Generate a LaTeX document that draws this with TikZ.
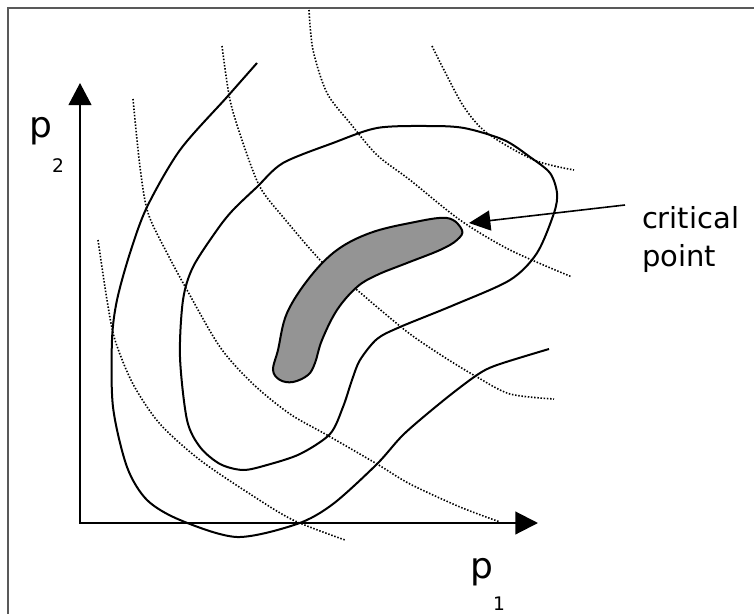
\documentclass[tikz,border=0pt]{standalone}
\usepackage{fontspec}
\setmainfont{DejaVu Sans}
\usetikzlibrary{arrows.meta}
\begin{document}
\begin{tikzpicture}[x=0.75pt,y=-0.75pt,
  frame/.style={line width=1pt, draw=black!65},
  contour/.style={line width=1.5pt, black},
  level/.style={line width=1.2pt, dash pattern=on 1.1pt off 1.3pt},
  axis/.style={line width=1.6pt, line join=miter,
    {Triangle[length=16.5pt,width=17pt]}-{Triangle[length=17pt,width=17pt]}},
  pointer/.style={line width=1.2pt, -{Triangle[length=16pt,width=15pt]}},
  lbl/.style={inner sep=0pt, outer sep=0pt},
  bigfont/.style={font=\fontsize{27}{32}\selectfont},
  subfont/.style={font=\fontsize{14}{16}\selectfont},
  midfont/.style={font=\fontsize{21.75}{28.5}\selectfont}]
\useasboundingbox (0,0) rectangle (754,614);
% frame
\draw[frame] (8,614) -- (8,8) -- (754,8);
% dotted level curves
\draw[level] plot[smooth] coordinates {(98,240) (107,300) (115,340) (133,384) (160,424) (200,460) (250,494) (293,520) (345,540)};
\draw[level] plot[smooth] coordinates {(133,99) (140,167) (148,213) (167,253) (187,290) (220,347) (253,384) (290,414) (327,435) (377,464) (410,484) (460,507) (500,522)};
\draw[level] plot[smooth] coordinates {(222,46) (230,100) (243,143) (260,187) (283,217) (323,263) (357,290) (377,307) (410,334) (444,357) (477,377) (510,394) (554,399)};
\draw[level] plot[smooth] coordinates {(309,10) (313,50) (327,93) (350,123) (377,155) (410,180) (460,220) (510,250) (572,277)};
\draw[level] plot[smooth] coordinates {(432,46) (444,70) (464,107) (487,133) (534,160) (574,170)};
% solid contours
\draw[contour] plot[smooth] coordinates {(257,63) (227,97) (180,150) (147,207) (130,253) (117,300) (112,340) (113,407) (127,467) (147,500) (180,520) (237,537) (297,524) (333,504) (377,464) (404,434) (444,400) (477,375) (497,365) (549,349)};
\draw[contour] plot[smooth cycle] coordinates {(377,128) (333,143) (283,163) (257,187) (233,210) (217,230) (193,267) (183,300) (180,357) (187,420) (200,447) (220,464) (243,470) (267,465) (300,454) (330,434) (343,407) (352,380) (360,360) (377,339) (400,327) (454,305) (510,280) (537,253) (554,213) (557,193) (550,173) (530,157) (504,140) (464,128) (427,126)};
% critical region
\draw[contour, fill=black!42] plot[smooth cycle, tension=0.6] coordinates {(447,218) (410,223) (370,233) (337,250) (310,277) (287,313) (278,350) (273,370) (280,380) (293,382) (308,375) (315,363) (322,340) (337,310) (357,287) (377,275) (407,263) (440,250) (457,240) (462,230)};
% axes
\coordinate (O) at (80,523);
\coordinate (ytip) at (80,83);
\coordinate (xtip) at (538,523);
\draw[axis] (ytip) -- (O) -- (xtip);
% labels
\node[lbl, bigfont, anchor=base west] (p2) at (29,137) {p};
\node[lbl, subfont, anchor=base west] (p2s) at (52,172) {2};
\node[lbl, bigfont, anchor=base west] (p1) at (470,578) {p};
\node[lbl, subfont, anchor=base west] (p1s) at (493,610) {1};
\node[lbl, midfont, align=left, anchor=north west] (crit) at (642,206) {critical\\point};
\coordinate (cptail) at (625,205);
\coordinate (cptip) at (469,223);
\draw[pointer] (cptail) -- (cptip);
\end{tikzpicture}
\end{document}
